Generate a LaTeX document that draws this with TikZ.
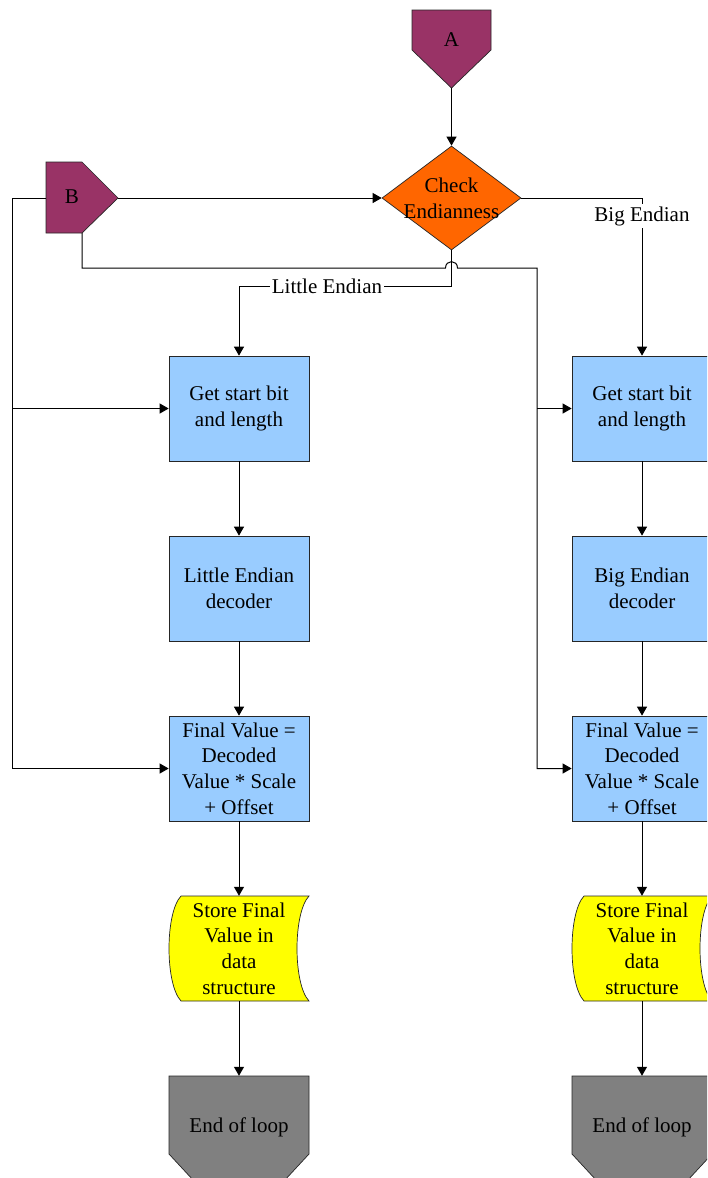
\documentclass[tikz,border=0pt]{standalone}
\usepackage{fontspec}
\setmainfont{Liberation Serif}
\usetikzlibrary{arrows.meta,shapes.geometric}
\definecolor{plum}{HTML}{993366}
\definecolor{orng}{HTML}{FF6600}
\definecolor{boxblue}{HTML}{99CCFF}
\definecolor{yel}{HTML}{FFFF00}
\definecolor{gry}{HTML}{808080}
\begin{document}
\begin{tikzpicture}[x=1pt,y=-1pt,
  conn/.style={draw=black, line width=1pt},
  arr/.style={conn, -{Triangle[length=9pt,width=10pt]}},
  shp/.style={draw=black!85, line width=0.7pt},
  txt/.style={font=\fontsize{21}{25.7}\selectfont, align=center, inner sep=0pt},
  box/.style={shp, fill=boxblue, minimum width=140pt, minimum height=105pt, inner sep=0pt, align=center, font=\fontsize{21}{25.7}\selectfont},
  ghost/.style={minimum width=140pt, minimum height=105pt, inner sep=0pt},
  lbl/.style={font=\fontsize{21}{25.7}\selectfont, fill=white, inner sep=2pt}
]
\clip (0,0) rectangle (707,1178);
\fill[white] (0,0) rectangle (707,1178);

% A off-page connector
\draw[shp, fill=plum] (412,10) -- (491,10) -- (491,50) -- (451.5,88) -- (412,50) -- cycle;
\node[txt] (A) at (451.5,40) {A};
\coordinate (At) at (451.5,88);

% B connector
\draw[shp, fill=plum] (46,162) -- (82,162) -- (118,198) -- (82,233) -- (46,233) -- cycle;
\node[txt] (B) at (72,197) {B};
\coordinate (Bw) at (46,198);
\coordinate (Be) at (118,198);
\coordinate (Bs) at (82,233);
\coordinate (Lbus) at (12,198);
\coordinate (Rbus) at (537,268);

% decision
\node[diamond, shp, fill=orng, minimum width=139pt, minimum height=104pt, inner sep=0pt] (D) at (451.5,198) {};
\node[txt] (Dtxt) at (D) {Check\\Endianness};

% left column
\node[box] (GL) at (239,408.5) {Get start bit\\and length};
\node[box] (LD) at (239,588.5) {Little Endian\\decoder};
\node[box] (FL) at (239,768.5) {Final Value =\\Decoded\\Value * Scale\\+ Offset};
\draw[shp, fill=yel] (181,896) .. controls (165,913) and (165,984) .. (181,1001) -- (309,1001)
  .. controls (293,984) and (293,913) .. (309,896) -- cycle;
\node[ghost, txt] (SL) at (239,948.5) {Store Final\\Value in\\data\\structure};
\draw[shp, fill=gry] (169,1076) -- (309,1076) -- (309,1154) -- (284,1181) -- (194,1181) -- (169,1154) -- cycle;
\node[ghost] (EL) at (239,1128.5) {};
\node[txt] (ELt) at (239,1127) {End of loop};

% right column
\node[box] (GR) at (642,408.5) {Get start bit\\and length};
\node[box] (BD) at (642,588.5) {Big Endian\\decoder};
\node[box] (FR) at (642,768.5) {Final Value =\\Decoded\\Value * Scale\\+ Offset};
\draw[shp, fill=yel] (584,896) .. controls (568,913) and (568,984) .. (584,1001) -- (712,1001)
  .. controls (696,984) and (696,913) .. (712,896) -- cycle;
\node[ghost, txt] (SR) at (642,948.5) {Store Final\\Value in\\data\\structure};
\draw[shp, fill=gry] (572,1076) -- (712,1076) -- (712,1154) -- (687,1181) -- (597,1181) -- (572,1154) -- cycle;
\node[ghost] (ER) at (642,1128.5) {};
\node[txt] (ERt) at (642,1127) {End of loop};

% connectors
\draw[arr] (At) -- (D.north);
\draw[arr] (Be) -- (D.west);
\draw[arr] (Bw) -- (Lbus) |- (FL.west);
\draw[arr] (GL.west -| Lbus) -- (GL.west);
\draw[arr] (Bs) -- (Bs |- Rbus) -- (445.5,268) .. controls (445.5,259.5) and (457.5,259.5) .. (457.5,268) -- (Rbus) |- (FR.west);
\draw[arr] (GR.west -| Rbus) -- (GR.west);
\draw[arr] (D.south) -- (451.5,286) -| (GL.north);
\node[lbl] (LE) at (327,286) {Little Endian};
\draw[arr] (D.east) -| (GR.north);
\node[lbl] (BE) at (642,216) {Big Endian};

\draw[arr] (GL) -- (LD);
\draw[arr] (LD) -- (FL);
\draw[arr] (FL) -- (SL);
\draw[arr] (SL) -- (EL);
\draw[arr] (GR) -- (BD);
\draw[arr] (BD) -- (FR);
\draw[arr] (FR) -- (SR);
\draw[arr] (SR) -- (ER);
\end{tikzpicture}
\end{document}
